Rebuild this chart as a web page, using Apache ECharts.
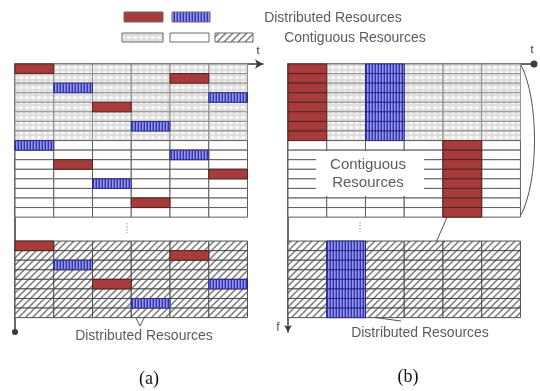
<!DOCTYPE html>
<html>
<head>
<meta charset="utf-8">
<script src="https://cdn.jsdelivr.net/npm/echarts@6/dist/echarts.min.js"></script>
<style>
  html, body { margin: 0; padding: 0; background: #fff; }
  #chart { width: 540px; height: 391px; }
</style>
</head>
<body>
<div id="chart"></div>
<script>
// Time-frequency resource grid: 6 time slots (columns) by sub-carrier rows
const slotCount = 6;
const upperDottedRows = 8;   // first band, shaded contiguous block
const upperPlainRows = 8;    // first band, plain contiguous block
const lowerRows = 8;         // last band, hatched contiguous block
const lowerStart = 18.5;     // row offset of the last band (after the gap)
const axisEnd = 28;

// (a) distributed allocation, one cell each: [slot, row]
const aUpperRed  = [[0, 0], [4, 1], [2, 4], [1, 10], [5, 11], [3, 14]];
const aUpperBlue = [[1, 2], [5, 3], [3, 6], [0, 8], [4, 9], [2, 12]];
const aLowerRed  = [[0, 0], [4, 1], [2, 4]];
const aLowerBlue = [[1, 2], [5, 4], [3, 6]];

// (b) localized allocation, blocks: [slot, firstRow, lastRow]
const bUpperRed  = [[0, 0, 7], [4, 8, 15]];
const bUpperBlue = [[2, 0, 7]];
const bLowerRed  = [];
const bLowerBlue = [[1, 0, 7]];

// cell kinds
const DOT = 0, PLAIN = 1, HATCH = 2, RED = 3, BLUE = 4;

function makePattern(w, h, draw) {
  const cv = document.createElement('canvas');
  cv.width = w; cv.height = h;
  draw(cv.getContext('2d'), w, h);
  return { image: cv, repeat: 'repeat' };
}

const dotFill = makePattern(6, 5, (g, w, h) => {
  g.fillStyle = '#dedede'; g.fillRect(0, 0, w, h);
  g.fillStyle = '#fbfbfb';
  g.beginPath(); g.ellipse(3, 2.5, 2.3, 1.5, 0, 0, Math.PI * 2); g.fill();
});
const hatchFill = makePattern(7, 7, (g, w, h) => {
  g.fillStyle = '#ffffff'; g.fillRect(0, 0, w, h);
  g.strokeStyle = '#7a7a7a'; g.lineWidth = 1.5;
  g.beginPath();
  g.moveTo(-1, h + 1); g.lineTo(w + 1, -1);
  g.moveTo(-1, 1); g.lineTo(1, -1);
  g.moveTo(w - 1, h + 1); g.lineTo(w + 1, h - 1);
  g.stroke();
});
const redFill = makePattern(4, 3, (g, w, h) => {
  g.fillStyle = '#aa3e3e'; g.fillRect(0, 0, w, h);
  g.fillStyle = '#933232'; g.fillRect(0, 0, 1, 1); g.fillRect(2, 2, 1, 1);
});
const blueFill = makePattern(3, 2, (g, w, h) => {
  g.fillStyle = '#9898ea'; g.fillRect(0, 0, w, h);
  g.fillStyle = '#3434ac'; g.fillRect(0, 0, 1, h);
  g.fillStyle = '#6c6cd8'; g.fillRect(2, 0, 1, h);
});

const fills = [dotFill, '#ffffff', hatchFill, redFill, blueFill];
const strokes = ['#8e8e8e', '#5e5e5e', '#4e4e4e', '#5a2020', '#2a2a80'];

function backgroundCells() {
  const cells = [];
  for (let c = 0; c < slotCount; c++) {
    for (let r = 0; r < upperDottedRows + upperPlainRows; r++) {
      cells.push([c, r, r < upperDottedRows ? DOT : PLAIN]);
    }
    for (let r = 0; r < lowerRows; r++) cells.push([c, lowerStart + r, HATCH]);
  }
  return cells;
}

function expandBlocks(blocks) {
  const out = [];
  blocks.forEach(([c, r0, r1]) => { for (let r = r0; r <= r1; r++) out.push([c, r]); });
  return out;
}

function buildCells(upRed, upBlue, lowRed, lowBlue) {
  const cells = backgroundCells();
  upRed.forEach(([c, r]) => cells.push([c, r, RED]));
  upBlue.forEach(([c, r]) => cells.push([c, r, BLUE]));
  lowRed.forEach(([c, r]) => cells.push([c, lowerStart + r, RED]));
  lowBlue.forEach(([c, r]) => cells.push([c, lowerStart + r, BLUE]));
  return cells;
}

const cellsA = buildCells(aUpperRed, aUpperBlue, aLowerRed, aLowerBlue);
const cellsB = buildCells(expandBlocks(bUpperRed), expandBlocks(bUpperBlue),
                          expandBlocks(bLowerRed), expandBlocks(bLowerBlue));

function renderCell(params, api) {
  const c = api.value(0), y = api.value(1), k = api.value(2);
  const p0 = api.coord([c, y]);
  const p1 = api.coord([c + 1, y + 1]);
  return {
    type: 'rect',
    shape: { x: p0[0], y: p0[1], width: p1[0] - p0[0], height: p1[1] - p0[1] },
    style: { fill: fills[k], stroke: strokes[k], lineWidth: 1 }
  };
}

const axisColor = '#3a3a3a';
function xAxisFor(gridIndex, max, endSymbol) {
  return {
    gridIndex, type: 'value', min: 0, max, position: 'top',
    axisLine: { show: true, onZero: false, symbol: ['none', endSymbol], symbolSize: [7, 8],
                lineStyle: { color: axisColor, width: 1.5 } },
    axisTick: { show: false }, axisLabel: { show: false }, splitLine: { show: false }
  };
}
// the y axis runs downward, so its far (bottom) end is the first symbol slot
function yAxisFor(gridIndex, endSymbol) {
  return {
    gridIndex, type: 'value', min: 0, max: axisEnd, inverse: true,
    axisLine: { show: true, onZero: false, symbol: [endSymbol, 'none'], symbolSize: [6, 7],
                lineStyle: { color: axisColor, width: 1.5 } },
    axisTick: { show: false }, axisLabel: { show: false }, splitLine: { show: false }
  };
}

const textGrey = '#5c5c5c';
const sansFont = '"Liberation Sans", Arial, sans-serif';
const serifFont = '"Liberation Serif", "Times New Roman", serif';

function label(text, x, y, size, opts) {
  return {
    type: 'text', x, y,
    style: Object.assign({ text, fill: textGrey, font: size + 'px ' + sansFont,
                           textAlign: 'center', textVerticalAlign: 'middle' }, opts || {})
  };
}
function swatch(x, y, w, h, fill) {
  return { type: 'rect', shape: { x, y, width: w, height: h },
           style: { fill, stroke: '#6a6a6a', lineWidth: 1 } };
}
function polyline(points, color) {
  return { type: 'polyline', shape: { points },
           style: { stroke: color || '#555', lineWidth: 1, fill: null } };
}

const chart = echarts.init(document.getElementById('chart'));
chart.setOption({
  animation: false,
  backgroundColor: '#ffffff',
  grid: [
    { left: 15, top: 64, width: 248, height: 268 },
    { left: 288, top: 64, width: 246, height: 268 }
  ],
  xAxis: [xAxisFor(0, 6.4, 'arrow'), xAxisFor(1, 6.35, 'circle')],
  yAxis: [yAxisFor(0, 'circle'), yAxisFor(1, 'arrow')],
  series: [
    { type: 'custom', xAxisIndex: 0, yAxisIndex: 0, renderItem: renderCell,
      data: cellsA, encode: { x: 0, y: 1 }, silent: true, z: 1 },
    { type: 'custom', xAxisIndex: 1, yAxisIndex: 1, renderItem: renderCell,
      data: cellsB, encode: { x: 0, y: 1 }, silent: true, z: 1 }
  ],
  graphic: [
    // legend
    swatch(124, 12, 39, 10, redFill),
    swatch(172, 12, 38, 10, blueFill),
    label('Distributed Resources', 333, 18, 14),
    swatch(122, 33, 41, 9, dotFill),
    swatch(170, 33, 39, 9, '#ffffff'),
    swatch(215, 33, 38, 9, hatchFill),
    label('Contiguous Resources', 355, 38, 14),

    // axis names
    label('t', 258, 51, 11, { fill: '#333' }),
    label('t', 532, 50, 11, { fill: '#333' }),
    label('f', 278, 328, 12, { fill: '#555' }),

    // vertical ellipsis between bands
    { type: 'line', shape: { x1: 127, y1: 223, x2: 127, y2: 233 },
      style: { stroke: '#aaa', lineWidth: 1.2, lineDash: [1.5, 1.5] } },
    { type: 'line', shape: { x1: 360, y1: 222, x2: 360, y2: 232 },
      style: { stroke: '#aaa', lineWidth: 1.2, lineDash: [1.5, 1.5] } },

    // brace grouping the first band in (b)
    { type: 'bezierCurve',
      shape: { x1: 521, y1: 65, cpx1: 539, cpy1: 100, cpx2: 539, cpy2: 180, x2: 521, y2: 215 },
      style: { stroke: '#555', lineWidth: 1, fill: null } },

    // contiguous label box in (b)
    { type: 'rect', shape: { x: 316, y: 151, width: 108, height: 45 },
      style: { fill: '#ffffff' }, z: 10 },
    Object.assign(label('Contiguous', 368, 165, 15), { z: 11 }),
    Object.assign(label('Resources', 368, 183, 15), { z: 11 }),

    // callouts (a)
    polyline([[110, 292], [131, 308], [140, 326]]),
    polyline([[148, 310], [140, 326]]),
    label('Distributed Resources', 144, 336, 14),

    // callouts (b)
    polyline([[448, 215], [403, 318]]),
    polyline([[347, 305], [371, 317], [401, 321]]),
    label('Distributed Resources', 420, 333, 14),

    // captions
    label('(a)', 149, 379, 18, { fill: '#111', font: '18px ' + serifFont }),
    label('(b)', 408, 377, 18, { fill: '#111', font: '18px ' + serifFont })
  ]
});
</script>
</body>
</html>
